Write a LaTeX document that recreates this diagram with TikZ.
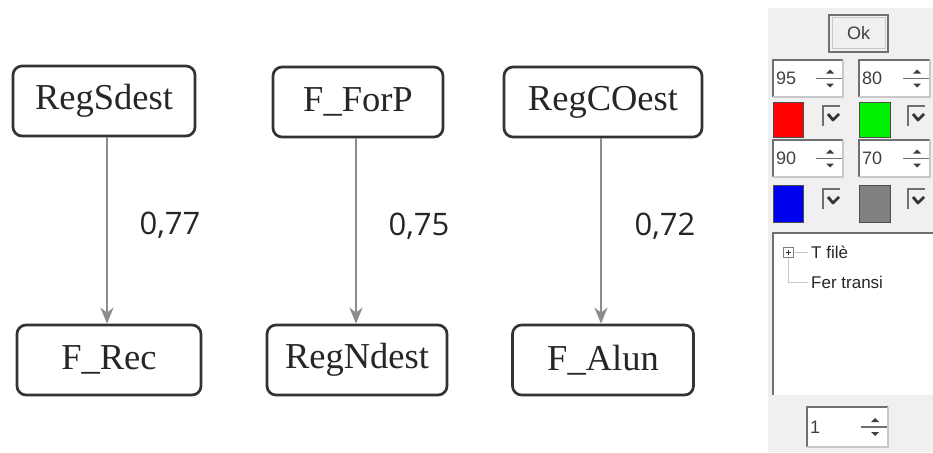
\documentclass[tikz,border=0pt]{standalone}
\usepackage{fontspec}
\setmainfont{Liberation Serif}
\newfontfamily\numfont{Open Sans}
\newfontfamily\uifont{Liberation Sans}
\usetikzlibrary{arrows.meta}

\definecolor{boxline}{HTML}{333333}
\definecolor{arrowgray}{HTML}{8C8C8C}
\definecolor{panelbg}{HTML}{F0F0F0}
\definecolor{edgedark}{HTML}{707070}
\definecolor{edgelight}{HTML}{C8C8C8}
\definecolor{swred}{HTML}{FF0000}
\definecolor{swgreen}{HTML}{00F000}
\definecolor{swblue}{HTML}{0000F0}
\definecolor{swgray}{HTML}{808080}

% spin field: name, x1, y1, x2, y2, value
\newcommand\spinfield[6]{%
  \fill[white] (#2,#3) rectangle (#4,#5);
  \draw[sunkdark] (#2,#5) -- (#2,#3) -- (#4,#3);
  \draw[sunklight] (#2,#5) -- (#4,#5) -- (#4,#3);
  \node[uitext, anchor=west] (#1) at ({#2+3},{(#3+#5)/2}) {#6};
  \draw[edgedark, line width=1.2pt] ({#4-27},{(#3+#5)/2}) -- ({#4-1},{(#3+#5)/2});
  \fill[black!75] ({#4-17},{(#3+#5)/2-5}) -- ({#4-9},{(#3+#5)/2-5}) -- ({#4-13},{(#3+#5)/2-9}) -- cycle;
  \fill[black!75] ({#4-17},{(#3+#5)/2+5}) -- ({#4-9},{(#3+#5)/2+5}) -- ({#4-13},{(#3+#5)/2+9}) -- cycle;
}
% ticked check box with its top left corner at (x,y)
\newcommand\tickbox[2]{%
  \draw[sunkdark] (#1,{#2+20}) -- (#1,#2) -- ({#1+17},#2);
  \draw[black!80, line width=2.8pt, line join=round]
    ({#1+5},{#2+8}) -- ({#1+10},{#2+14}) -- ({#1+16},{#2+8});
}

\begin{document}
\begin{tikzpicture}[x=1pt, y=-1pt,
  var/.style={draw=boxline, line width=2.7pt, rounded corners=9pt, fill=white,
    inner sep=0pt, minimum height=70pt, text=black!85,
    font=\fontsize{36.5}{40}\selectfont},
  link/.style={draw=arrowgray, line width=2pt,
    -{Stealth[length=16pt, width=13pt, inset=5pt]}},
  weight/.style={font=\numfont\fontsize{31}{36}\selectfont, text=black!85},
  uitext/.style={font=\uifont\fontsize{18}{20}\selectfont, text=black!75, inner sep=0pt},
  treetext/.style={font=\uifont\fontsize{17}{19}\selectfont, text=black!85, inner sep=0pt, anchor=west},
  sunkdark/.style={draw=edgedark, line width=2pt},
  sunklight/.style={draw=edgelight, line width=1.2pt},
  swatch/.style={draw=black!70, line width=1pt}]

\useasboundingbox (0,0) rectangle (933,452);
\fill[white] (0,0) rectangle (933,452);

% ---- variable boxes ----
\node[var, minimum width=182pt] (RegSdest) at (104,101) {RegSdest};
\node[var, minimum width=184pt] (FRec)     at (109,360) {F\_Rec};
\node[var, minimum width=170pt] (FForP)    at (358,102) {F\_ForP};
\node[var, minimum width=180pt] (RegNdest) at (357,360) {RegNdest};
\node[var, minimum width=198pt] (RegCOest) at (603,102) {RegCOest};
\node[var, minimum width=181pt] (FAlun)    at (603,360) {F\_Alun};

% ---- weighted links ----
\draw[link] ([xshift=3pt]RegSdest.south) -- ([xshift=3pt]RegSdest.south |- FRec.north)
  node[weight, midway, xshift=63pt, yshift=5pt] (w1) {0,77};
\draw[link] ([xshift=-2pt]FForP.south) -- ([xshift=-2pt]FForP.south |- RegNdest.north)
  node[weight, midway, xshift=63pt, yshift=5pt] (w2) {0,75};
\draw[link] ([xshift=-2pt]RegCOest.south) -- ([xshift=-2pt]RegCOest.south |- FAlun.north)
  node[weight, midway, xshift=64pt, yshift=5pt] (w3) {0,72};

% ---- control panel ----
\fill[panelbg] (768,8) rectangle (933,452);

% Ok button
\fill[panelbg] (829,15) rectangle (888,52);
\draw[draw=edgedark, line width=1.6pt] (829,15) rectangle (888,52);
\draw[draw=edgelight, line width=1pt] (832,18) rectangle (885,49);
\node[uitext] (ok) at (858.5,33.5) {Ok};

% thresholds and colours
\spinfield{s95}{773}{60}{843}{97}{95}
\spinfield{s80}{859}{60}{930}{97}{80}
\fill[swred]   (773,102) rectangle (803,137);
\draw[swatch]  (773,102) rectangle (803,137);
\tickbox{823}{106}
\fill[swgreen] (859,102) rectangle (890,137);
\draw[swatch]  (859,102) rectangle (890,137);
\tickbox{908}{106}

\spinfield{s90}{773}{140}{843}{177}{90}
\spinfield{s70}{859}{140}{930}{177}{70}
\fill[swblue]  (773,185) rectangle (803,222);
\draw[swatch]  (773,185) rectangle (803,222);
\tickbox{823}{189}
\fill[swgray]  (859,185) rectangle (890,222);
\draw[swatch]  (859,185) rectangle (890,222);
\tickbox{908}{189}

% tree list
\fill[white] (773,233) rectangle (933,395);
\draw[sunkdark] (773,395) -- (773,233) -- (933,233);
\draw[edgelight, line width=1pt] (793,252) -- (808,252);
\draw[edgelight, line width=1pt] (788,257) -- (788,282) -- (808,282);
\draw[draw=black!50, fill=white, line width=0.8pt] (783,247) rectangle (793,257);
\draw[black!80, line width=0.9pt] (785.5,252) -- (790.5,252) (788,249.5) -- (788,254.5);
\node[treetext] (t1) at (811,252) {T filè};
\node[treetext] (t2) at (811,282) {Fer transi};

% step counter
\spinfield{s1}{807}{407}{888}{447}{1}

\end{tikzpicture}
\end{document}
